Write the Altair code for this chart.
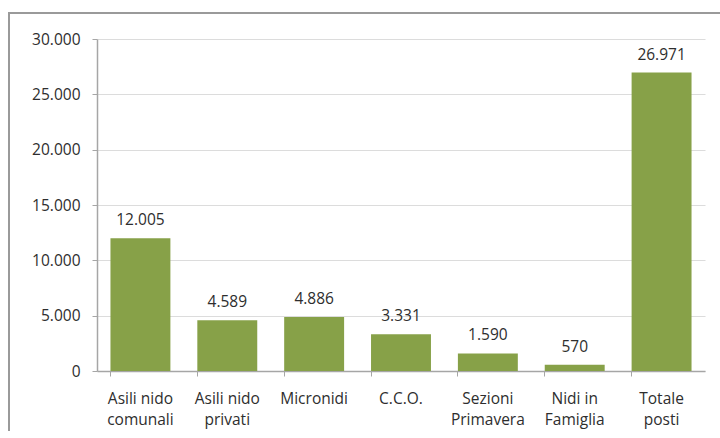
import altair as alt
import pandas as pd

# Posti disponibili per tipologia di servizio
categories = [
    "Asili nido\ncomunali",
    "Asili nido\nprivati",
    "Micronidi",
    "C.C.O.",
    "Sezioni\nPrimavera",
    "Nidi in\nFamiglia",
    "Totale\nposti",
]
posti = [12005, 4589, 4886, 3331, 1590, 570, 26971]
y_ticks = [0, 5000, 10000, 15000, 20000, 25000, 30000]

df = pd.DataFrame({"categoria": categories, "posti": posti})
one = pd.DataFrame({"k": [0]})

FONT = "Open Sans"
FS = 15.5
TEXT = "#2e2e2e"
AXIS = "#a6a6a6"
GRID = "#dcdcdc"
GREEN = "#87a148"
FRAME = "#9a9a9a"

it_num = "replace(format({v}, ','), ',', '.')"

x = alt.X(
    "categoria:N",
    sort=categories,
    scale=alt.Scale(paddingInner=0.31, paddingOuter=0.155),
    axis=alt.Axis(
        title=None,
        labelAngle=0,
        labelExpr="split(datum.label, '\\n')",
        labelFont=FONT,
        labelFontSize=FS,
        labelColor=TEXT,
        labelPadding=15,
        labelLineHeight=21,
        labelBaseline="top",
        bandPosition=0,
        tickSize=5,
        tickColor=AXIS,
        domainColor=AXIS,
        domainWidth=1.5,
        grid=False,
    ),
)

y = alt.Y(
    "posti:Q",
    scale=alt.Scale(domain=[0, 30000], nice=False),
    axis=alt.Axis(
        title=None,
        values=y_ticks,
        labelExpr=it_num.format(v="datum.value"),
        labelFont=FONT,
        labelFontSize=FS,
        labelColor=TEXT,
        labelPadding=12,
        tickSize=5,
        tickColor=AXIS,
        domainColor=AXIS,
        domainWidth=1.5,
        gridColor=GRID,
        gridWidth=1.2,
    ),
)

bars = alt.Chart(df).mark_bar(color=GREEN).encode(x=x, y=y)

labels = (
    alt.Chart(df)
    .transform_calculate(etichetta=it_num.format(v="datum.posti"))
    .mark_text(dy=-10, font=FONT, fontSize=FS, color=TEXT, baseline="bottom")
    .encode(x=alt.X("categoria:N", sort=categories), y="posti:Q", text="etichetta:N")
)

# Outer frame: thin filled strips along the top and left edges
frame_top = alt.Chart(one).mark_rect(fill=FRAME, strokeWidth=0).encode(
    x=alt.value(-89), x2=alt.value(623), y=alt.value(-27), y2=alt.value(-25)
)
frame_left = alt.Chart(one).mark_rect(fill=FRAME, strokeWidth=0).encode(
    x=alt.value(-89), x2=alt.value(-87), y=alt.value(-27), y2=alt.value(399)
)

chart = (
    alt.layer(bars, labels, frame_top, frame_left)
    .properties(
        width=608,
        height=332,
        autosize=alt.AutoSizeParams(type="none"),
        padding={"left": 97, "top": 39, "right": 15, "bottom": 60},
        background="white",
    )
    .configure_view(stroke="transparent", strokeWidth=0)
)

chart.save("out.html", embed_options={"renderer": "svg", "actions": False})
